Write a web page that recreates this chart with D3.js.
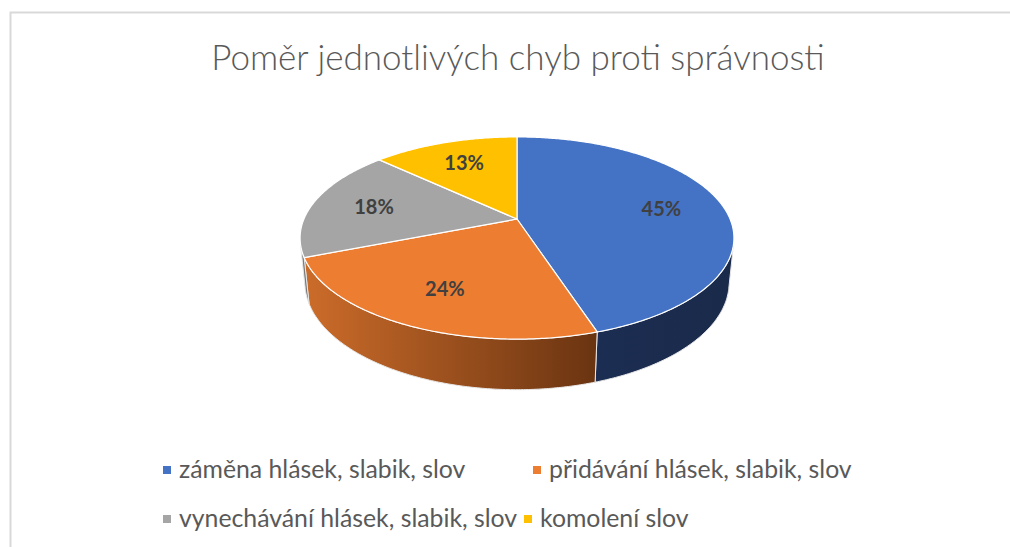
<!DOCTYPE html>
<html>
<head>
<meta charset="utf-8">
<script src="https://cdn.jsdelivr.net/npm/d3@7"></script>
<style>
  body { margin: 0; background: #fff; }
  svg { display: block; font-family: Lato, "Open Sans", sans-serif; }
</style>
</head>
<body>
<div id="chart"></div>
<script>
const categories = ['záměna hlásek, slabik, slov', 'přidávání hlásek, slabik, slov', 'vynechávání hlásek, slabik, slov', 'komolení slov']
const values = [45, 24, 18, 13]
const colors = ['#4472c4', '#ed7d31', '#a5a5a5', '#ffc000']
const sideColors = [['#1b2d52', '#1a2a4a'], ['#cc6c2a', '#6a3411'], ['#8c8c8c', '#7a7a7a'], ['#c99a00', '#9a7500']]
const title = 'Poměr jednotlivých chyb proti správnosti'

const width = 1010, height = 547

const svg = d3.select('#chart').append('svg')
  .attr('width', width)
  .attr('height', height)

const defs = svg.append('defs')

// chart frame (right and bottom edges are cut off in the original)
svg.append('path')
  .attr('d', 'M10.5,547 V12.5 H1010')
  .attr('fill', 'none')
  .attr('stroke', '#d9d9d9')
  .attr('stroke-width', 2)

// title
svg.append('text')
  .attr('x', 518)
  .attr('y', 70)
  .attr('text-anchor', 'middle')
  .attr('fill', '#595959')
  .attr('font-size', 35)
  .attr('font-weight', 300)
  .text(title)

// perspective projection of a flat disc seen from above
const cx = 517, cy = 219
const alpha = 26.7 * Math.PI / 180
const D = 4.75, fx = 1012, fy = 1031
const thick = 0.231

function proj(u, v, h) {
  let xc = u
  let yc = h * Math.cos(alpha) - v * Math.sin(alpha)
  let zc = D - v * Math.cos(alpha) - h * Math.sin(alpha)
  return [cx + fx * xc / zc, cy - fy * yc / zc]
}

// angle measured clockwise from the far point
function rim(theta, r, h) {
  return proj(r * Math.sin(theta), -r * Math.cos(theta), h)
}

const pie = d3.pie().sort(null).value(d => d)
const arcs = pie(values)

const line = d3.line()

function arcPoints(a0, a1, r, h) {
  let n = Math.max(2, Math.ceil((a1 - a0) / 0.01))
  return d3.range(n + 1).map(i => rim(a0 + (a1 - a0) * i / n, r, h))
}

// side walls visible where the wall faces the camera
const visMin = Math.acos(-1 / (D * Math.cos(alpha)))
const visMax = 2 * Math.PI - visMin

const sideGroup = svg.append('g')
const topGroup = svg.append('g')

arcs.forEach((a, i) => {
  let s0 = Math.max(a.startAngle, visMin)
  let s1 = Math.min(a.endAngle, visMax)
  if (s1 > s0) {
    let topPts = arcPoints(s0, s1, 1, 0)
    let botPts = arcPoints(s0, s1, 1, -thick).reverse()
    let xs = topPts.map(p => p[0])
    let gid = 'side' + i
    let grad = defs.append('linearGradient')
      .attr('id', gid)
      .attr('gradientUnits', 'userSpaceOnUse')
      .attr('x1', d3.min(xs)).attr('x2', d3.max(xs))
      .attr('y1', 0).attr('y2', 0)
    grad.append('stop').attr('offset', 0).attr('stop-color', sideColors[i][0])
    grad.append('stop').attr('offset', 1).attr('stop-color', sideColors[i][1])
    sideGroup.append('path')
      .attr('d', line(topPts.concat(botPts)) + 'Z')
      .attr('fill', 'url(#' + gid + ')')
      .attr('stroke', '#e8e8e8')
      .attr('stroke-width', 1)
      .attr('stroke-linejoin', 'round')
  }

  let pts = [proj(0, 0, 0)].concat(arcPoints(a.startAngle, a.endAngle, 1, 0))
  topGroup.append('path')
    .attr('d', line(pts) + 'Z')
    .attr('fill', colors[i])
    .attr('stroke', '#ffffff')
    .attr('stroke-width', 1.2)
    .attr('stroke-linejoin', 'round')
})

// data labels
arcs.forEach((a, i) => {
  let mid = (a.startAngle + a.endAngle) / 2
  let p = rim(mid, 0.7, 0)
  svg.append('text')
    .attr('x', p[0])
    .attr('y', p[1])
    .attr('dy', '0.35em')
    .attr('text-anchor', 'middle')
    .attr('fill', '#404040')
    .attr('font-size', 20)
    .attr('font-weight', 700)
    .text(d3.format('.0%')(a.value / d3.sum(values)))
})

// legend
const legendPos = [[163, 478], [533, 478], [163, 527], [524, 527]]
const legend = svg.append('g')
categories.forEach((c, i) => {
  let g = legend.append('g').attr('transform', 'translate(' + legendPos[i][0] + ',' + legendPos[i][1] + ')')
  g.append('rect')
    .attr('x', 0).attr('y', -12)
    .attr('width', 8).attr('height', 8)
    .attr('fill', colors[i])
  g.append('text')
    .attr('x', 16).attr('y', 0)
    .attr('fill', '#595959')
    .attr('font-size', 24.8)
    .text(c)
})
</script>
</body>
</html>
